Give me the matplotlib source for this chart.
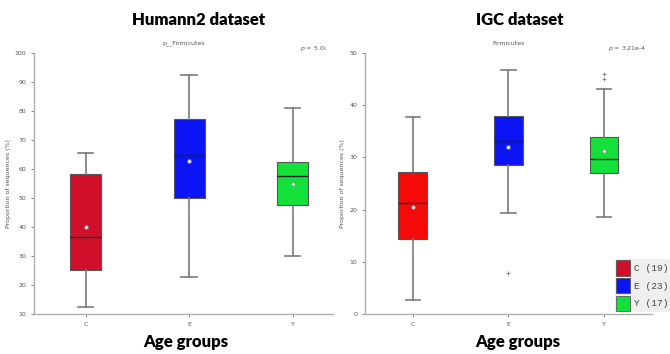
import matplotlib.pyplot as plt
from matplotlib.patches import Patch

groups = ["C", "E", "Y"]
group_sizes = [19, 23, 17]

# Humann2 dataset (p__Firmicutes)
h_low = [12.5, 22.7, 30.0]
h_q1 = [25.3, 50.0, 47.7]
h_med = [36.5, 65.0, 57.5]
h_q3 = [58.3, 77.3, 62.5]
h_high = [65.5, 92.3, 81.0]
h_mean = [40.0, 62.7, 55.0]
h_fliers = [[], [], []]

# IGC dataset (Firmicutes)
g_low = [2.7, 19.3, 18.5]
g_q1 = [14.4, 28.5, 27.0]
g_med = [21.2, 33.2, 29.7]
g_q3 = [27.3, 38.0, 34.0]
g_high = [37.8, 46.8, 43.2]
g_mean = [20.5, 32.0, 31.3]
g_fliers = [[], [7.8], [45.0, 46.0]]

h_colors = ["#d0102a", "#0a14f5", "#14e03a"]
g_colors = ["#f50a0a", "#0a14f5", "#14e03a"]
grey = "#7a7a7a"


def draw_panel(ax, low, q1, med, q3, high, mean, fliers, colors, title, ptext,
               yticks, xlim):
    stats = []
    for i in range(len(groups)):
        stats.append({"whislo": low[i], "q1": q1[i], "med": med[i], "q3": q3[i],
                      "whishi": high[i], "mean": mean[i], "fliers": fliers[i],
                      "label": groups[i]})
    bp = ax.bxp(stats, positions=[1, 2, 3], widths=0.3, patch_artist=True,
                showmeans=True,
                boxprops=dict(edgecolor="#555555", linewidth=0.8),
                whiskerprops=dict(color=grey, linewidth=1.2),
                capprops=dict(color=grey, linewidth=1.2),
                medianprops=dict(color="#222222", linewidth=1.0),
                meanprops=dict(marker="o", markersize=2.6, markerfacecolor="white",
                               markeredgecolor="#888888", markeredgewidth=0.6),
                flierprops=dict(marker="+", markersize=3.5, markeredgecolor=grey,
                                markeredgewidth=0.6))
    for box, c in zip(bp["boxes"], colors):
        box.set_facecolor(c)
    ax.set_xlim(*xlim)
    ax.set_ylim(yticks[0], yticks[-1])
    ax.set_yticks(yticks)
    for s in ["top", "right"]:
        ax.spines[s].set_visible(False)
    for s in ["left", "bottom"]:
        ax.spines[s].set_color("#b0b0b0")
        ax.spines[s].set_linewidth(1.0)
    ax.tick_params(labelsize=4.5, colors="#555555", length=2, width=0.5)
    ax.set_ylabel("Proportion of sequences (%)", fontsize=4.5, color="#555555",
                  labelpad=3)
    ax.set_title(title, fontsize=4.5, color="#555555", pad=6)
    ax.text(xlim[1] - 0.06, yticks[-1], ptext, fontsize=4.5, color="#555555",
            ha="right", va="bottom", transform=ax.transData, clip_on=False)


fig = plt.figure(figsize=(6.7, 3.54), dpi=100)
ax1 = fig.add_axes([0.0507, 0.113, 0.4463, 0.737])
ax2 = fig.add_axes([0.5448, 0.113, 0.4282, 0.737])

draw_panel(ax1, h_low, h_q1, h_med, h_q3, h_high, h_mean, h_fliers, h_colors,
           "p__Firmicutes", "$p$ = 5.0i", list(range(10, 101, 10)), (0.5, 3.39))
draw_panel(ax2, g_low, g_q1, g_med, g_q3, g_high, g_mean, g_fliers, g_colors,
           "Firmicutes", "$p$ = 3.21e-4", list(range(0, 51, 10)), (0.5, 3.5))

fig.text(0.296, 0.943, "Humann2 dataset", fontsize=12, fontweight="heavy",
         family="Lato", ha="center", va="center")
fig.text(0.776, 0.943, "IGC dataset", fontsize=12, fontweight="heavy",
         family="Lato", ha="center", va="center")
fig.text(0.277, 0.035, "Age groups", fontsize=12, fontweight="heavy",
         family="Lato", ha="center", va="center")
fig.text(0.773, 0.035, "Age groups", fontsize=12, fontweight="heavy",
         family="Lato", ha="center", va="center")

handles = [Patch(facecolor=h_colors[i], edgecolor="#444444", linewidth=0.5,
                 label="{} ({})".format(groups[i], group_sizes[i]))
           for i in range(len(groups))]
leg = fig.legend(handles=handles, loc="lower right", bbox_to_anchor=(1.0, 0.118),
                 prop={"family": "Liberation Mono", "size": 6.8}, frameon=True,
                 handlelength=1.5, handleheight=2.1, handletextpad=0.4,
                 labelspacing=0.25, borderpad=0.15, borderaxespad=0)
leg.get_frame().set_facecolor("#ebebeb")
leg.get_frame().set_edgecolor("none")
for t in leg.get_texts():
    t.set_color("#444444")

fig.savefig("out.png", dpi=100)
